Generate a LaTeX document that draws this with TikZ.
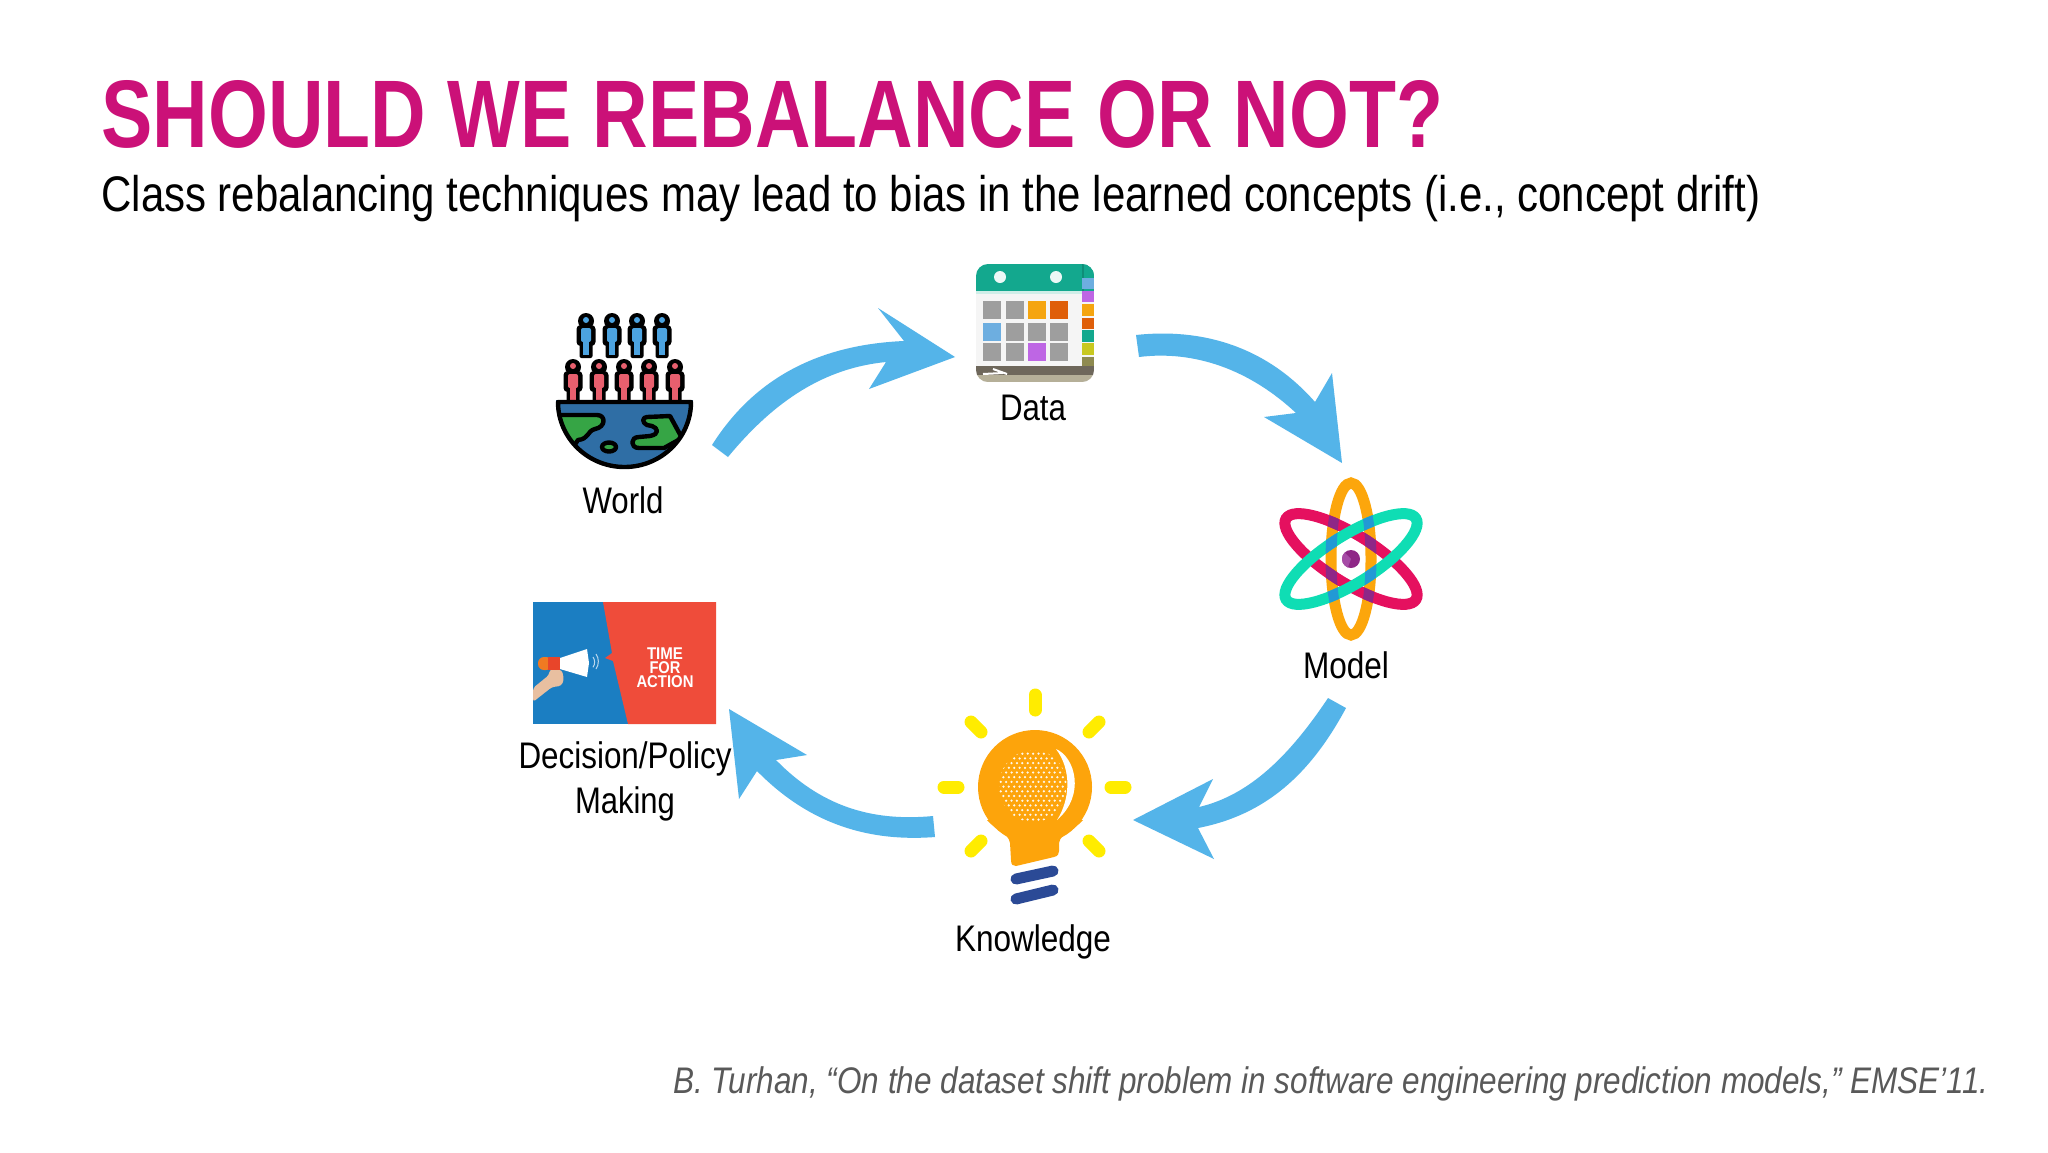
\documentclass[tikz,border=0pt]{standalone}
\usepackage{graphicx}
\usepackage{fontspec}
\setmainfont{Liberation Sans}
\newlength\pxu \setlength\pxu{0.5pt}
\newcommand\fitw[2]{\resizebox{#1\pxu}{\height}{#2}}
\definecolor{titlec}{HTML}{CB1178}
\definecolor{arrowc}{HTML}{54B4E9}
\definecolor{citec}{HTML}{595959}
\definecolor{personblue}{HTML}{4CA3E0}
\definecolor{personred}{HTML}{E85F6E}
\definecolor{globeblue}{HTML}{2F6EA5}
\definecolor{landgreen}{HTML}{36A545}
\definecolor{calteal}{HTML}{13A88E}
\definecolor{caldark}{HTML}{0F8E78}
\definecolor{calgray}{HTML}{9E9E9E}
\definecolor{calblue}{HTML}{6DAEE0}
\definecolor{calpurple}{HTML}{BE66E4}
\definecolor{calorange}{HTML}{F5A510}
\definecolor{calrust}{HTML}{DF5F0A}
\definecolor{calyellow}{HTML}{C8C820}
\definecolor{calolive}{HTML}{8E8A50}
\definecolor{calband}{HTML}{6E675B}
\definecolor{caltaupe}{HTML}{B5AF98}
\definecolor{atomorange}{HTML}{FCA60C}
\definecolor{atomred}{HTML}{E5105F}
\definecolor{atomteal}{HTML}{0FDDB4}
\definecolor{atompurple}{HTML}{8E2787}
\definecolor{atomlight}{HTML}{A64CA6}
\definecolor{atomblue}{HTML}{2299D5}
\definecolor{bulborange}{HTML}{FDA40B}
\definecolor{rayyellow}{HTML}{FFEC00}
\definecolor{coilblue}{HTML}{2B4A96}
\definecolor{actblue}{HTML}{1B7EC2}
\definecolor{actred}{HTML}{EF4C3A}
\definecolor{skin}{HTML}{E8BFA0}
\definecolor{capred}{HTML}{E8452A}
\definecolor{caporange}{HTML}{F07A22}
\tikzset{
  flow/.style={fill=arrowc,draw=none},
  lbl/.style={inner sep=0pt,anchor=base,font=\fontsize{18.5pt}{22pt}\selectfont,text=black},
  outl/.style={draw=black,line width=2.2pt,line join=round},
  ray/.style={draw=rayyellow,line width=6.5pt,line cap=round},
  coil/.style={draw=coilblue,line width=5.5pt,line cap=round},
  acttxt/.style={inner sep=0pt,anchor=base,text=white,font=\fontsize{8.5pt}{9pt}\selectfont\bfseries},
}
\newcommand\person[4]{% x, top y, colour, bottom y
  \fill[black] (#1,#2+8) circle[radius=8];
  \fill[black,rounded corners=2pt] (#1-9.5,#2+12) rectangle (#1+9.5,#2+33);
  \fill[black,rounded corners=1pt] (#1-6.5,#2+25) rectangle (#1+6.5,#4);
  \fill[#3,rounded corners=1pt] (#1-5,#2+15) rectangle (#1+5,#2+29);
  \fill[#3] (#1-3,#2+25) rectangle (#1+3,#4-3);
  \fill[#3] (#1,#2+7) circle[radius=3];
}
\begin{document}
\begin{tikzpicture}[x=0.5pt,y=-0.5pt]
\useasboundingbox (0,0) rectangle (2048,1152);
\fill[white] (0,0) rectangle (2048,1152);

% texts
\node[inner sep=0pt,anchor=base west,text=titlec,font=\fontsize{48pt}{50pt}\selectfont\bfseries] (title) at (101,147) {\fitw{1342}{SHOULD WE REBALANCE OR NOT?}};
\node[inner sep=0pt,anchor=base west,font=\fontsize{25pt}{30pt}\selectfont] (subtitle) at (101,211) {\fitw{1659}{Class rebalancing techniques may lead to bias in the learned concepts (i.e., concept drift)}};
\node[inner sep=0pt,anchor=base west,text=citec,font=\fontsize{18.5pt}{22pt}\selectfont\itshape] (cite) at (673,1093) {\fitw{1315}{B. Turhan, “On the dataset shift problem in software engineering prediction models,” EMSE’11.}};
\node[lbl] (world) at (623,513) {\fitw{81}{World}};
\node[lbl] (data) at (1033,420) {\fitw{66}{Data}};
\node[lbl] (model) at (1346,678) {\fitw{86}{Model}};
\node[lbl] (knowledge) at (1033,951) {\fitw{156}{Knowledge}};
\node[lbl] (decision) at (625,768) {\fitw{213}{Decision/Policy}};
\node[lbl] (making) at (625,813) {\fitw{100}{Making}};

% flow arrows
\fill[flow] (712,445) .. controls (750,385) and (810,345) .. (904,341) -- (878,308) -- (955,357) -- (869,389) -- (886,362) .. controls (825,368) and (775,400) .. (728,457) -- cycle;
\fill[flow] (1136,335) .. controls (1200,328) and (1265,345) .. (1315,402) -- (1332,373) -- (1342,463) -- (1264,417) -- (1296,413) .. controls (1250,370) and (1195,350) .. (1139,357) -- cycle;
\fill[flow] (1346,708) .. controls (1310,775) and (1265,815) .. (1198,828) -- (1214,859) -- (1133,820) -- (1213,779) -- (1199,807) .. controls (1250,795) and (1290,755) .. (1328,698) -- cycle;
\fill[flow] (933,816) .. controls (870,822) and (820,805) .. (776,760) -- (807,755) -- (729,709) -- (739,799) -- (757,771) .. controls (810,825) and (870,842) .. (935,837) -- cycle;

% world icon
\foreach \px in {586,612,637,662} {\person{\px}{313}{personblue}{358}}
\foreach \px in {573,599,624,649,675} {\person{\px}{359}{personred}{405}}
\begin{scope}
  \clip (556,400) -- (693,400) arc[start angle=0,end angle=180,radius=68.5] -- cycle;
  \fill[globeblue] (550,395) rectangle (700,475);
  \draw[outl,fill=landgreen] (550,415) -- (597,415) .. controls (606,415) and (606,427) .. (595,429) .. controls (587,431) and (589,439) .. (578,440) -- (570,452) -- (550,452) -- cycle;
  \draw[outl,fill=landgreen] (647,417) -- (670,416) -- (682,438) -- (664,448) -- (639,448) .. controls (630,448) and (630,437) .. (639,437) -- (650,436) .. controls (660,434) and (658,428) .. (652,426) -- (647,425) .. controls (642,423) and (642,417) .. (647,417) -- cycle;
\end{scope}
\draw[outl,fill=landgreen] (609,447) ellipse[x radius=7,y radius=4.5];
\draw[outl] (558,402) -- (691,402) arc[start angle=0,end angle=180,x radius=66.5,y radius=65] -- cycle;

% data icon
\begin{scope}
  \clip[rounded corners=6pt] (976,264) rectangle (1094,382);
  \fill[white!96!black] (976,264) rectangle (1094,382);
  \fill[calteal] (976,264) rectangle (1094,291);
  \fill[white!80!calteal] (976,291) rectangle (1082,294);
  \fill[caldark] (1082,264) rectangle (1084,291);
  \fill[calteal] (1084,264) rectangle (1094,278);
  \fill[calblue] (1082,278) rectangle (1094,289);
  \fill[calpurple] (1082,291) rectangle (1094,302);
  \fill[calorange] (1082,304) rectangle (1094,316);
  \fill[calrust] (1082,318) rectangle (1094,329);
  \fill[calteal] (1082,330) rectangle (1094,342);
  \fill[calyellow] (1082,343) rectangle (1094,355);
  \fill[calolive] (1082,357) rectangle (1094,366);
  \fill[calband] (976,366) rectangle (1094,375);
  \fill[caltaupe] (976,375) rectangle (1094,382);
  \draw[white,line width=1pt] (983,374) -- (1003,373);
  \draw[white,line width=1pt] (993,369) -- (1007,374);
\end{scope}
\fill[white!92!calteal] (1000,277) circle[radius=6];
\fill[white!92!calteal] (1056,277) circle[radius=6];
\foreach \gx/\gy/\gc in {983/301/calgray,1006/301/calgray,1028/301/calorange,1050/301/calrust,
  983/323/calblue,1006/323/calgray,1028/323/calgray,1050/323/calgray,
  983/343/calgray,1006/343/calgray,1028/343/calpurple,1050/343/calgray}
  {\fill[\gc] (\gx,\gy) rectangle ++(18,18);}

% model icon
\draw[atomorange,line width=5.5pt] (1351,559) ellipse[x radius=20,y radius=76];
\draw[atomred,line width=5.5pt,rotate around={-32:(1351,559)}] (1351,559) ellipse[x radius=76.5,y radius=24];
\begin{scope}[even odd rule]
  \clip (1351,559) ellipse[x radius=25.5,y radius=81.5] (1351,559) ellipse[x radius=14.5,y radius=70.5];
  \draw[atompurple,line width=5.5pt,rotate around={-32:(1351,559)}] (1351,559) ellipse[x radius=76.5,y radius=24];
\end{scope}
\draw[atomteal,line width=5.5pt,rotate around={32:(1351,559)}] (1351,559) ellipse[x radius=76.5,y radius=24];
\begin{scope}[even odd rule]
  \clip (1351,559) ellipse[x radius=25.5,y radius=81.5] (1351,559) ellipse[x radius=14.5,y radius=70.5];
  \draw[atomblue,line width=5.5pt,rotate around={32:(1351,559)}] (1351,559) ellipse[x radius=76.5,y radius=24];
\end{scope}
\fill[atompurple] (1351,559) circle[radius=9];
\begin{scope}
  \clip (1351,559) circle[radius=9];
  \fill[atomlight] (1340,548) -- (1351,559) -- (1345,575) -- (1335,570) -- cycle;
\end{scope}

% bulb icon
\fill[bulborange] (1035,787) circle[radius=57];
\fill[bulborange] (987,820) .. controls (995,830) and (1008,832) .. (1010,843) -- (1011,860) .. controls (1011,865) and (1013,866) .. (1016,866) -- (1054,857) .. controls (1058,856) and (1059,854) .. (1059,851) -- (1059,843) .. controls (1061,832) and (1075,830) .. (1083,820) -- cycle;
\begin{scope}
  \clip (1033,786) ellipse[x radius=34,y radius=36];
  \foreach \i in {0,...,13} {
    \foreach \j in {0,...,16} {
      \pgfmathsetmacro\dx{998+\i*5.4+mod(\j,2)*2.7}
      \pgfmathsetmacro\dy{749+\j*4.7}
      \fill[white!92!bulborange] (\dx,\dy) circle[radius=1.25];
    }
  }
\end{scope}
\fill[white] (1056,749) .. controls (1075,757) and (1086,795) .. (1057,820) .. controls (1070,800) and (1072,770) .. (1056,749) -- cycle;
\draw[ray] (1035,695) -- (1035,710);
\draw[ray] (944,787) -- (958,787);
\draw[ray] (1111,787) -- (1125,787);
\draw[ray] (971,722) -- (981,732);
\draw[ray] (1099,722) -- (1089,732);
\draw[ray] (971,851) -- (981,841);
\draw[ray] (1099,851) -- (1089,841);
\draw[coil] (1016,879) -- (1053,871);
\draw[coil] (1016,899) -- (1053,890);

% decision icon
\fill[actblue] (533,602) rectangle (716,724);
\fill[actred] (603,602) -- (716,602) -- (716,724) -- (628,724) -- (613,661) -- (605,658) -- (612,653) -- cycle;
\node[acttxt] (time) at (665,659) {\fitw{36}{TIME}};
\node[acttxt] (for) at (665,673) {\fitw{31}{FOR}};
\node[acttxt] (action) at (665,687) {\fitw{57}{ACTION}};
\fill[skin,rounded corners=1.5pt] (533,688) -- (549,675) -- (550,669) -- (562,670) -- (564,680) -- (561,686) -- (552,687) -- (533,702) -- cycle;
\fill[white] (560,658) -- (587,649) -- (589,663) -- (587,677) -- (560,669) -- cycle;
\fill[caporange,rounded corners=3pt] (538,657) rectangle (552,670);
\fill[capred] (548,657) rectangle (560,670);
\draw[white!70!actblue,line width=0.5pt] (593,657) arc[start angle=-35,end angle=35,radius=9];
\draw[white!70!actblue,line width=0.5pt] (596,654) arc[start angle=-35,end angle=35,radius=13];
\end{tikzpicture}
\end{document}
